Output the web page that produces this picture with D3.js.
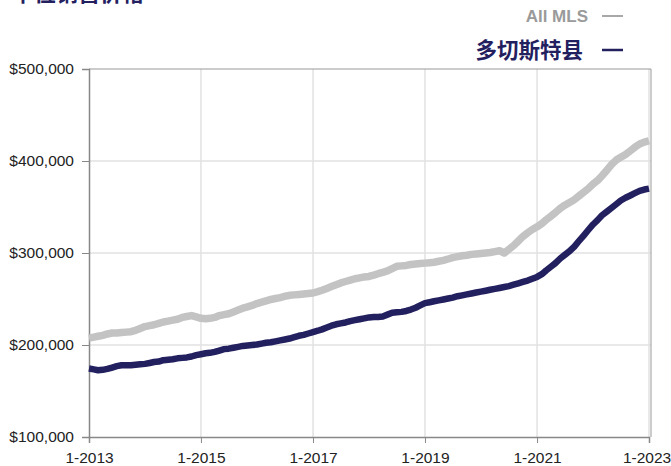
<!DOCTYPE html>
<html>
<head>
<meta charset="utf-8">
<script src="https://cdn.jsdelivr.net/npm/d3@7"></script>
<style>
  body { margin: 0; background: #fff; }
  svg { display: block; font-family: "Liberation Sans", Arial, sans-serif; }
</style>
</head>
<body>
<div id="chart"></div>
<script>
// monthly median price, Jan 2013 .. Jan 2023 (thousands of dollars)
const allMls = [
  207.5, 208.5, 209.5, 210.5, 212, 213, 213, 213.5, 214, 214.5, 216, 218,
  220, 221, 222, 223.5, 225, 226, 227, 228, 230, 231, 232, 230.5,
  229, 228.5, 229, 230, 232, 233, 234, 236, 238, 240, 241.5, 243,
  245, 246.5, 248, 249.5, 250.5, 251.5, 253, 254, 254.5, 255, 255.5, 256,
  256.5, 258, 259.5, 261.5, 263.5, 265.5, 267.5, 269, 270.5, 272, 273, 274,
  274.5, 276, 277.5, 279, 280.5, 283, 285.5, 286, 286.5, 287.5, 288, 288.5,
  289, 289.5, 290, 291, 292, 293.5, 295, 296, 297, 297.5, 298.5, 299,
  299.5, 300, 300.5, 301.5, 302.5, 300, 304, 308, 313, 318, 322, 325.5,
  328.5, 332, 336, 340, 344, 348.5, 352, 355, 358, 362, 366, 370,
  375, 379, 384, 390, 396, 401, 404, 407, 411, 415, 418.5, 420.5,
  422
];
const dorchester = [
  174.5, 173.5, 172.5, 173, 174, 175.5, 177, 178, 178, 178, 178.5, 179,
  179.5, 180.5, 181.5, 182, 183.5, 184, 184.5, 185.5, 186, 186.5, 187.5, 189,
  190, 191, 191.5, 192.5, 194, 195.5, 196, 197, 198, 199, 199.5, 200,
  200.5, 201.5, 202.5, 203, 204, 205, 206, 207, 208.5, 210, 211, 212.5,
  214, 215.5, 217, 219, 221, 222.5, 223.5, 224.5, 226, 227, 228, 229,
  230, 230.5, 230.5, 231, 233, 235, 235.5, 236, 237, 238.5, 240.5, 243,
  245.5, 246.5, 247.5, 248.5, 249.5, 250.5, 251.5, 253, 254, 255, 256, 257,
  258, 259, 260, 261, 262, 263, 264, 265.5, 267, 268.5, 270, 272,
  274, 277, 281, 285, 289, 294, 298, 302, 307, 313, 319, 325,
  331, 336, 341, 345, 349, 353, 357, 360, 362.5, 365, 367.5, 369,
  370
];
const yTicks = [100000, 200000, 300000, 400000, 500000];
const xTickYears = [2013, 2015, 2017, 2019, 2021, 2023];
const seriesNames = ["All MLS", "多切斯特县"];

const width = 671, height = 466;
const margin = {top: 69, right: 20, bottom: 29, left: 89};

const svg = d3.select("#chart").append("svg")
    .attr("width", width)
    .attr("height", height);

const months = allMls.map((_, i) => new Date(2013, i, 1));

const x = d3.scaleTime()
    .domain([new Date(2013, 0, 1), new Date(2023, 0, 1)])
    .range([margin.left, 649]);

const y = d3.scaleLinear()
    .domain([100000, 500000])
    .range([height - margin.bottom, margin.top]);

// grid
svg.append("g")
    .selectAll("line")
    .data(yTicks.slice(1, -1))
    .join("line")
        .attr("x1", margin.left).attr("x2", 651)
        .attr("y1", d => y(d)).attr("y2", d => y(d))
        .attr("stroke", "#e2e2e2").attr("stroke-width", 1.5);

svg.append("g")
    .selectAll("line")
    .data(xTickYears.slice(1))
    .join("line")
        .attr("x1", d => x(new Date(d, 0, 1))).attr("x2", d => x(new Date(d, 0, 1)))
        .attr("y1", y(100000)).attr("y2", y(500000))
        .attr("stroke", "#e2e2e2").attr("stroke-width", 1.5);

// frame top / right
svg.append("line")
    .attr("x1", margin.left).attr("x2", 651)
    .attr("y1", y(500000)).attr("y2", y(500000))
    .attr("stroke", "#999");
svg.append("line")
    .attr("x1", 651).attr("x2", 651)
    .attr("y1", y(500000)).attr("y2", y(100000))
    .attr("stroke", "#999");

// axes
svg.append("g")
    .attr("transform", `translate(${margin.left},0)`)
    .call(d3.axisLeft(y).tickValues(yTicks).tickSize(7).tickPadding(8)
        .tickFormat(d => "$" + d3.format(",")(d)))
    .call(g => g.select(".domain").attr("stroke", "#888").attr("stroke-width", 1.5))
    .call(g => g.selectAll(".tick line").attr("stroke", "#888"))
    .call(g => g.selectAll("text").attr("font-size", 15.5).attr("fill", "#222"));

svg.append("g")
    .attr("transform", `translate(0,${y(100000)})`)
    .call(d3.axisBottom(x).tickValues(xTickYears.map(yr => new Date(yr, 0, 1)))
        .tickSize(6).tickPadding(9)
        .tickFormat(d => "1-" + d.getFullYear()))
    .call(g => g.select(".domain").attr("stroke", "#888").attr("stroke-width", 1.5))
    .call(g => g.selectAll(".tick line").attr("stroke", "#888"))
    .call(g => g.selectAll("text").attr("font-size", 15.5).attr("fill", "#222"))
    .call(g => g.selectAll(".tick:last-of-type text").attr("dx", -2.5));

// lines
const line = d3.line()
    .x((d, i) => x(months[i]))
    .y(d => y(d * 1000));

svg.append("path")
    .datum(allMls)
    .attr("fill", "none")
    .attr("stroke", "#c3c3c3")
    .attr("stroke-width", 7.5)
    .attr("stroke-linejoin", "round")
    .attr("d", line);

svg.append("path")
    .datum(dorchester)
    .attr("fill", "none")
    .attr("stroke", "#23205f")
    .attr("stroke-width", 6.5)
    .attr("stroke-linejoin", "round")
    .attr("d", line);

// title, cut off at the top edge
svg.append("text")
    .attr("x", 12)
    .attr("y", 1)
    .attr("font-size", 22)
    .attr("font-weight", "bold")
    .attr("font-family", "'Noto Sans CJK SC', sans-serif")
    .attr("fill", "#23205f")
    .text("中位销售价格");

// legend
const legend = svg.append("g");
legend.append("text")
    .attr("x", 588).attr("y", 22)
    .attr("text-anchor", "end")
    .attr("font-size", 17).attr("font-weight", "bold")
    .attr("fill", "#9a9a9a")
    .text(seriesNames[0]);
legend.append("line")
    .attr("x1", 602).attr("x2", 623).attr("y1", 16).attr("y2", 16)
    .attr("stroke", "#a8a8a8").attr("stroke-width", 2);

legend.append("text")
    .attr("x", 583).attr("y", 58)
    .attr("text-anchor", "end")
    .attr("font-size", 21.5).attr("font-weight", "bold")
    .attr("font-family", "'Noto Sans CJK SC', sans-serif")
    .attr("fill", "#23205f")
    .text(seriesNames[1]);
legend.append("line")
    .attr("x1", 602).attr("x2", 623).attr("y1", 50).attr("y2", 50)
    .attr("stroke", "#23205f").attr("stroke-width", 2.5);
</script>
</body>
</html>
